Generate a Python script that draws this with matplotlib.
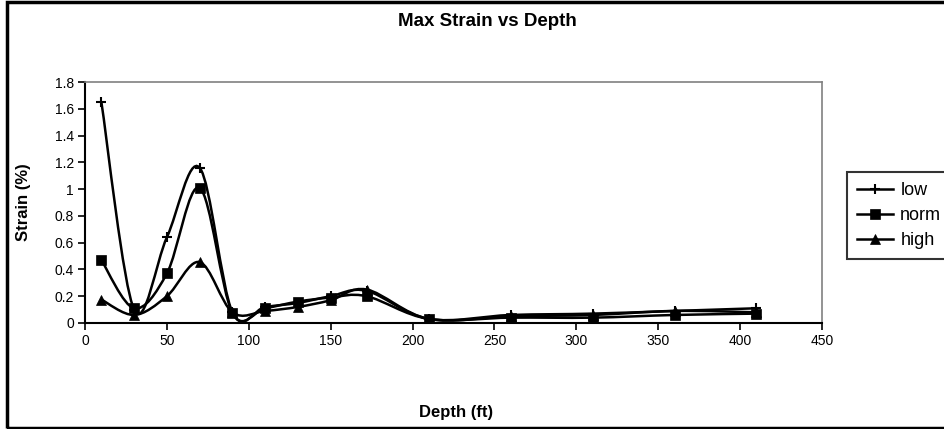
import numpy as np
import matplotlib
matplotlib.use("Agg")
import matplotlib.pyplot as plt
from matplotlib.path import Path
from matplotlib.patches import PathPatch, Rectangle
from matplotlib.lines import Line2D

plt.rcParams['font.family'] = ['Liberation Sans', 'DejaVu Sans']

depth = [10, 30, 50, 70, 90, 110, 130, 150, 172, 210, 260, 310, 360, 410]
low = [1.65, 0.10, 0.64, 1.16, 0.08, 0.12, 0.15, 0.20, 0.24, 0.03, 0.06, 0.07, 0.09, 0.11]
norm = [0.47, 0.11, 0.37, 1.01, 0.075, 0.11, 0.16, 0.19, 0.20, 0.03, 0.04, 0.04, 0.06, 0.07]
high = [0.175, 0.06, 0.20, 0.455, 0.08, 0.09, 0.12, 0.17, 0.25, 0.03, 0.05, 0.06, 0.09, 0.08]

series = [("low", low, "+", 6.5), ("norm", norm, "s", 6.5), ("high", high, "^", 6.5)]

W, H = 945, 429
fig = plt.figure(figsize=(W / 100, H / 100), dpi=100)
ax = fig.add_axes([85 / W, (H - 323) / H, (822 - 85) / W, (323 - 82) / H])


def smooth_path(xs, ys):
    xs = np.asarray(xs, float)
    ys = np.asarray(ys, float)
    n = len(xs)
    verts = [(xs[0], ys[0])]
    codes = [Path.MOVETO]
    for i in range(n - 1):
        i0 = max(i - 1, 0)
        i3 = min(i + 2, n - 1)
        c1 = (xs[i] + (xs[i + 1] - xs[i0]) / 6, ys[i] + (ys[i + 1] - ys[i0]) / 6)
        c2 = (xs[i + 1] - (xs[i3] - xs[i]) / 6, ys[i + 1] - (ys[i3] - ys[i]) / 6)
        verts += [c1, c2, (xs[i + 1], ys[i + 1])]
        codes += [Path.CURVE4] * 3
    return Path(verts, codes)


handles = []
for name, vals, mk, ms in series:
    ax.add_patch(PathPatch(smooth_path(depth, vals), facecolor='none',
                           edgecolor='black', lw=1.8, zorder=2))
    ax.plot(depth, vals, linestyle='none', marker=mk, markersize=ms,
            color='black', mew=1.5 if mk == '+' else 0.5, zorder=3)
    handles.append(Line2D([], [], color='black', lw=1.8, marker=mk,
                          markersize=ms, mew=1.5 if mk == '+' else 0.5, label=name))

ax.set_xlim(0, 450)
ax.set_ylim(0, 1.8)
ax.set_xticks(np.arange(0, 451, 50))
ax.set_yticks(np.arange(0, 1.81, 0.2))
ax.set_yticklabels(["0", "0.2", "0.4", "0.6", "0.8", "1", "1.2", "1.4", "1.6", "1.8"])
ax.tick_params(axis='both', direction='out', length=5, width=1.2, labelsize=10, pad=3)

for s in ['left', 'bottom']:
    ax.spines[s].set_color('black')
    ax.spines[s].set_linewidth(1.5)
for s in ['top', 'right']:
    ax.spines[s].set_color('#808080')
    ax.spines[s].set_linewidth(1.2)

fig.text(487.5 / W, 1 - 21 / H, "Max Strain vs Depth", ha='center', va='center',
         fontsize=13.5, fontweight='bold')
fig.text(456 / W, 1 - 413 / H, "Depth (ft)", ha='center', va='center',
         fontsize=12, fontweight='bold')
fig.text(24 / W, 1 - 202 / H, "Strain (%)", ha='center', va='center',
         fontsize=12, fontweight='bold', rotation=90)

# outer chart frame (right edge lies beyond the picture)
fig.patches.append(Rectangle((7 / W, 1 - 427.5 / H), (990 - 7) / W, (427.5 - 1.5) / H,
                             transform=fig.transFigure, fill=False,
                             edgecolor='black', lw=2.5, clip_on=True))

leg = fig.legend(handles=handles, loc='upper left',
                 bbox_to_anchor=(847 / W, 1 - 172 / H), fontsize=13,
                 frameon=True, fancybox=False, borderaxespad=0,
                 handlelength=2.0, handletextpad=0.4, borderpad=0.55,
                 labelspacing=0.45)
leg.get_frame().set_edgecolor('black')
leg.get_frame().set_linewidth(1.5)

fig.savefig("out.png", dpi=100)
